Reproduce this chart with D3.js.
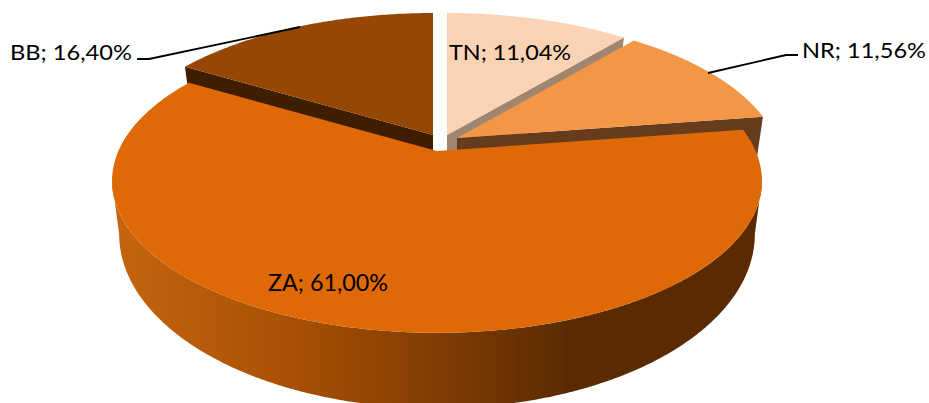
<!DOCTYPE html>
<html>
<head>
<meta charset="utf-8">
<script src="https://cdn.jsdelivr.net/npm/d3@7"></script>
<style>
  html, body { margin: 0; padding: 0; background: #fff; }
  svg { display: block; }
  text { font-family: Lato, "Open Sans", sans-serif; fill: #000; }
</style>
</head>
<body>
<script>
// Data
const categories = ['TN', 'NR', 'ZA', 'BB']
const shares = [11.04, 11.56, 61.0, 16.4]
const topColors = ['#FAD2B4', '#F39645', '#E06907', '#964705']
const wallColors = ['#A08670', '#673C1D', null, '#3F1E00']

// Layout, in slice order: where each pulled out slice has its tip
const tipX = [447, 457, 437, 433]
const tipY = [135, 138, 151, 135]
const labelX = [449, 802, 268, 10]
const labelY = [60, 58, 291, 60]
const labelWidth = [122, 124, 120, 122]
const labelSize = [22, 22, 24, 22]

const w = 929
const h = 403
const radiusX = 318.6
const radiusY = 146
const perspective = 0.197
const depth = 49
const bottomShrinkX = 0.978
const bottomGrowY = 1.145

const svg = d3.select('body')
  .append('svg')
  .attr('width', w)
  .attr('height', h)

const pie = d3.pie().sort(null).value(d => d)
const slices = pie(shares)
const line = d3.line().x(d => d[0]).y(d => d[1])
const percent = d3.format('.2f')

// tilted disc seen in perspective, angle runs clockwise from 12 o'clock
function project(i, angle, bottom) {
  const u = Math.sin(angle)
  const v = -Math.cos(angle)
  const s = 1 / (1 - perspective * v)
  return [
    tipX[i] + radiusX * u * s * (bottom ? bottomShrinkX : 1),
    tipY[i] + radiusY * v * s * (bottom ? bottomGrowY : 1) + (bottom ? depth : 0)
  ]
}

function rim(i, a0, a1, bottom) {
  const n = Math.ceil(Math.abs(a1 - a0) / 0.01)
  return d3.range(n + 1).map(k => project(i, a0 + (a1 - a0) * k / n, bottom))
}

// side of the big slice is shaded from left to right
const grad = svg.append('defs').append('linearGradient')
  .attr('id', 'side')
  .attr('gradientUnits', 'userSpaceOnUse')
  .attr('x1', 117).attr('x2', 760)
  .attr('y1', 0).attr('y2', 0)
grad.selectAll('stop')
  .data([[0, '#C4640E'], [0.25, '#AB5205'], [0.5, '#823C03'], [0.7, '#5A2B03'], [1, '#5A2B03']])
  .enter()
  .append('stop')
  .attr('offset', d => d[0])
  .attr('stop-color', d => d[1])

// the disc is widest here, the visible side runs between these two angles
const sideStart = Math.acos(-perspective)
const sideEnd = 2 * Math.PI - sideStart

// back slices first, the big one covers their cut faces
const drawOrder = [0, 1, 3, 2]

drawOrder.forEach(i => {
  const d = slices[i]
  const g = svg.append('g').attr('class', 'slice-' + categories[i])

  if (wallColors[i]) {
    // cut face towards the big slice
    const cut = categories[i] === 'BB' ? d.startAngle : d.endAngle
    const outerTop = project(i, cut, false)
    const outerBottom = project(i, cut, true)
    const tip = [tipX[i], tipY[i]]
    g.append('path')
      .attr('d', line([tip, outerTop, outerBottom, [tip[0], tip[1] + depth]]) + 'Z')
      .attr('fill', wallColors[i])
  } else {
    // outer wall
    const pts = rim(i, sideStart, sideEnd, false)
      .concat(rim(i, sideEnd, sideStart, true))
    g.append('path')
      .attr('d', line(pts) + 'Z')
      .attr('fill', 'url(#side)')
  }

  const top = [[tipX[i], tipY[i]]].concat(rim(i, d.startAngle, d.endAngle, false))
  g.append('path')
    .attr('d', line(top) + 'Z')
    .attr('fill', topColors[i])
})

// Leader lines
const leaders = [
  [[137, 59], [149, 59], [300, 27]],
  [[708, 73], [786, 55], [798, 55]]
]
svg.selectAll('.leader')
  .data(leaders)
  .enter()
  .append('path')
  .attr('class', 'leader')
  .attr('d', line)
  .attr('fill', 'none')
  .attr('stroke', '#000')
  .attr('stroke-width', 1.8)

// Labels
svg.selectAll('.label')
  .data(slices)
  .enter()
  .append('text')
  .attr('class', 'label')
  .attr('x', (d, i) => labelX[i])
  .attr('y', (d, i) => labelY[i])
  .attr('font-size', (d, i) => labelSize[i])
  .attr('textLength', (d, i) => labelWidth[i])
  .attr('lengthAdjust', 'spacingAndGlyphs')
  .text((d, i) => categories[i] + '; ' + percent(d.data).replace('.', ',') + '%')
</script>
</body>
</html>
